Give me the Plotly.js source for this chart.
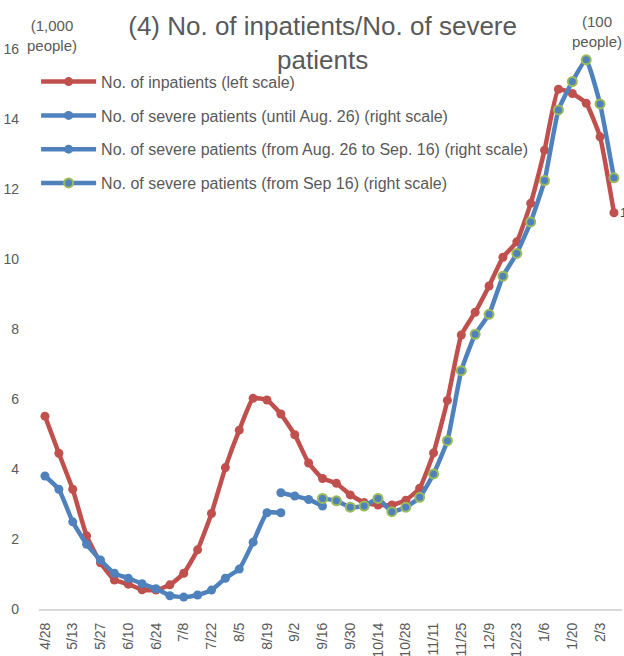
<!DOCTYPE html>
<html>
<head>
<meta charset="utf-8">
<script src="https://cdn.plot.ly/plotly-3.0.1.min.js"></script>
<style>html,body{margin:0;padding:0;background:#fff;}#chart{width:624px;height:656px;}</style>
</head>
<body>
<div id="chart"></div>
<script>
// Weekly categories (labels shown every other week)
const dates = ['4/28','5/6','5/13','5/20','5/27','6/3','6/10','6/17','6/24','7/1','7/8','7/15','7/22','7/29','8/5','8/12','8/19','8/26','9/2','9/9','9/16','9/23','9/30','10/7','10/14','10/21','10/28','11/4','11/11','11/18','11/25','12/2','12/9','12/16','12/23','12/30','1/6','1/13','1/20','1/27','2/3','2/10'];
const tickLabels = ['4/28','5/13','5/27','6/10','6/24','7/8','7/22','8/5','8/19','9/2','9/16','9/30','10/14','10/28','11/11','11/25','12/9','12/23','1/6','1/20','2/3'];

// No. of inpatients (1,000 people, left scale)
const inpatients = [5.51,4.45,3.42,2.09,1.32,0.83,0.71,0.55,0.54,0.69,1.02,1.69,2.73,4.04,5.11,6.02,5.97,5.57,4.98,4.17,3.73,3.59,3.26,3.04,2.97,2.97,3.11,3.45,4.46,5.96,7.83,8.48,9.23,10.05,10.49,11.59,13.11,14.85,14.73,14.45,13.49,11.32];

// No. of severe patients (100 people, right scale)
const severeUntilAug26 = [3.80,3.42,2.49,1.85,1.40,1.02,0.88,0.72,0.58,0.38,0.34,0.40,0.54,0.88,1.14,1.91,2.75,2.75,null,null,null,null,null,null,null,null,null,null,null,null,null,null,null,null,null,null,null,null,null,null,null,null];
const severeAug26toSep16 = [null,null,null,null,null,null,null,null,null,null,null,null,null,null,null,null,null,3.32,3.23,3.13,2.94,null,null,null,null,null,null,null,null,null,null,null,null,null,null,null,null,null,null,null,null,null];
const severeFromSep16 = [null,null,null,null,null,null,null,null,null,null,null,null,null,null,null,null,null,null,null,null,3.16,3.09,2.91,2.94,3.16,2.78,2.91,3.19,3.86,4.81,6.81,7.85,8.42,9.51,10.16,11.06,12.24,14.26,15.07,15.69,14.43,12.32];

const RED = '#C0504D', BLUE = '#4F81BD', GREEN = '#9BBB59', TXT = '#595959';
const FONT = 'Liberation Sans, Arial, sans-serif';
const lineShape = {width: 4.5, shape: 'spline', smoothing: 0.4};

const traces = [
  {x: dates, y: inpatients, name: 'No. of inpatients (left scale)', type: 'scatter', mode: 'lines+markers',
   line: Object.assign({color: RED}, lineShape), marker: {color: RED, size: 9}, legendgroup: 'a', yaxis: 'y'},
  {x: dates, y: severeUntilAug26, name: 'No. of severe patients (until Aug. 26) (right scale)', type: 'scatter', mode: 'lines+markers',
   line: Object.assign({color: BLUE}, lineShape), marker: {color: BLUE, size: 9}, legendgroup: 'b', yaxis: 'y2'},
  {x: dates, y: severeAug26toSep16, name: 'No. of severe patients (from Aug. 26 to Sep. 16) (right scale)', type: 'scatter', mode: 'lines+markers',
   line: Object.assign({color: BLUE}, lineShape), marker: {color: BLUE, size: 9}, legendgroup: 'c', yaxis: 'y2'},
  {x: dates, y: severeFromSep16, name: 'No. of severe patients (from Sep 16) (right scale)', type: 'scatter', mode: 'lines+markers',
   line: Object.assign({color: BLUE}, lineShape), marker: {color: BLUE, size: 9, line: {color: GREEN, width: 2}}, legendgroup: 'd', yaxis: 'y2'}
];

const layout = {
  width: 624, height: 656,
  margin: {l: 39, r: 2, t: 49, b: 47},
  paper_bgcolor: '#fff', plot_bgcolor: '#fff',
  font: {family: FONT, color: TXT, size: 14},
  title: {text: '(4) No. of inpatients/No. of severe<br>patients', font: {family: FONT, size: 26, color: TXT},
          x: 0.517, xanchor: 'center', y: 0.9466, yanchor: 'top'},
  showlegend: true,
  legend: {x: -0.005, xanchor: 'left', y: 0.972, yanchor: 'top', bgcolor: 'rgba(0,0,0,0)',
           font: {family: FONT, size: 16, color: TXT}, tracegroupgap: 10, itemwidth: 55},
  xaxis: {type: 'category', range: [-0.43, 41.58], tickmode: 'array', tickvals: tickLabels, ticktext: tickLabels,
          tickangle: -90, ticks: '', showgrid: false, zeroline: false, showline: true, linecolor: '#d9d9d9', linewidth: 2,
          tickfont: {family: FONT, size: 14, color: TXT}, ticklabelstandoff: 6},
  yaxis: {range: [0, 16], dtick: 2, showgrid: false, zeroline: false, showline: false, ticks: '',
          tickfont: {family: FONT, size: 14, color: TXT}, ticklabelstandoff: 19},
  yaxis2: {range: [0, 16], overlaying: 'y', side: 'right', showgrid: false, zeroline: false, showline: false,
           showticklabels: false, ticks: ''},
  annotations: [
    {text: '(1,000<br>people)', xref: 'paper', yref: 'paper', x: 0.022, y: 1.025, xanchor: 'center', yanchor: 'middle',
     showarrow: false, font: {family: FONT, size: 15, color: TXT}},
    {text: '(100<br>people)', xref: 'paper', yref: 'paper', x: 0.957, y: 1.032, xanchor: 'center', yanchor: 'middle',
     showarrow: false, font: {family: FONT, size: 15, color: TXT}},
    {text: '1', xref: 'x', yref: 'y', x: dates[dates.length - 1], y: inpatients[inpatients.length - 1], xanchor: 'left', yanchor: 'middle',
     xshift: 4, showarrow: false, font: {family: FONT, size: 13, color: '#404040'}}
  ]
};

Plotly.newPlot('chart', traces, layout, {displayModeBar: false, staticPlot: true});
</script>
</body>
</html>
